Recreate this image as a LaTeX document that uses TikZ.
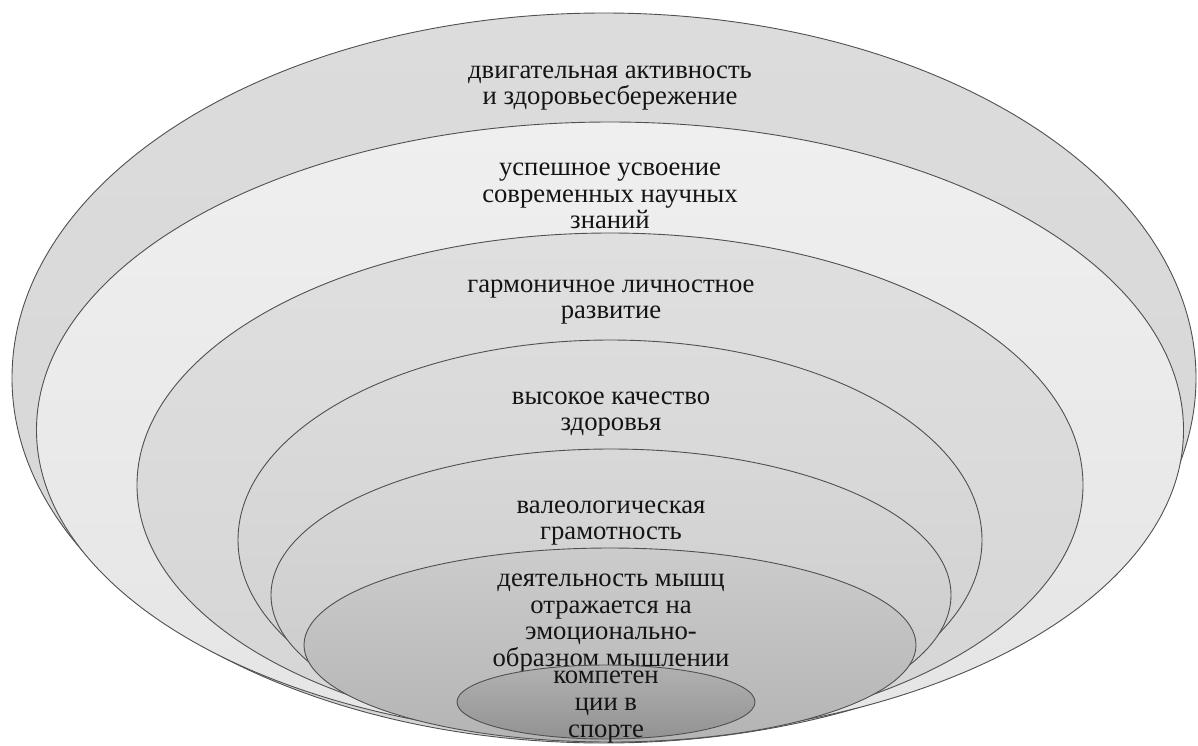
\documentclass[tikz,border=0pt]{standalone}
\usepackage{fontspec}
\setmainfont{Liberation Serif}
\newfontfamily\lblfont{Liberation Serif}
\usetikzlibrary{shapes.geometric}
\definecolor{ringline}{HTML}{505050}
\definecolor{txt}{HTML}{141414}
\begin{document}
\begin{tikzpicture}[x=1pt,y=-1pt,
  ring/.style={ellipse, draw=ringline, line width=0.9pt, inner sep=0pt},
  lbl/.style={align=center, font=\lblfont\fontsize{26.7}{26.6}\selectfont, text=txt, inner sep=0pt}]
\useasboundingbox (0,0) rectangle (1198,745);
\node[ring, minimum width=1184pt, minimum height=730pt, top color={rgb,255:red,220;green,220;blue,220}, bottom color={rgb,255:red,214;green,214;blue,214}] (e1) at (604,378) {};
\node[lbl] (t1) at (610,88) {двигательная активность\\и здоровьесбережение};
\node[ring, minimum width=1147pt, minimum height=616pt, top color={rgb,255:red,239;green,239;blue,239}, bottom color={rgb,255:red,229;green,229;blue,229}] (e2) at (610,430) {};
\node[lbl] (t2) at (610,196) {успешное усвоение\\современных научных\\знаний};
\node[ring, minimum width=946pt, minimum height=504pt, top color={rgb,255:red,223;green,223;blue,223}, bottom color={rgb,255:red,213;green,213;blue,213}] (e3) at (610,485) {};
\node[lbl] (t3) at (611,302) {гармоничное личностное\\развитие};
\node[ring, minimum width=744pt, minimum height=400pt, top color={rgb,255:red,220;green,220;blue,220}, bottom color={rgb,255:red,208;green,208;blue,208}] (e4) at (610,540) {};
\node[lbl] (t4) at (611,414) {высокое качество\\здоровья};
\node[ring, minimum width=680pt, minimum height=292pt, top color={rgb,255:red,216;green,216;blue,216}, bottom color={rgb,255:red,202;green,202;blue,202}] (e5) at (611,595) {};
\node[lbl] (t5) at (611,523) {валеологическая\\грамотность};
\node[ring, minimum width=612pt, minimum height=194pt, top color={rgb,255:red,204;green,204;blue,204}, bottom color={rgb,255:red,180;green,180;blue,180}] (e6) at (610,645) {};
\node[lbl] (t6) at (611,623) {деятельность мышц\\отражается на\\эмоционально-\\образном мышлении};
\node[ring, minimum width=298pt, minimum height=74pt, top color={rgb,255:red,178;green,178;blue,178}, bottom color={rgb,255:red,146;green,146;blue,146}] (e7) at (606,702) {};
\node[lbl] (t7) at (606,707) {компетен\\ции в\\спорте};
\end{tikzpicture}
\end{document}
